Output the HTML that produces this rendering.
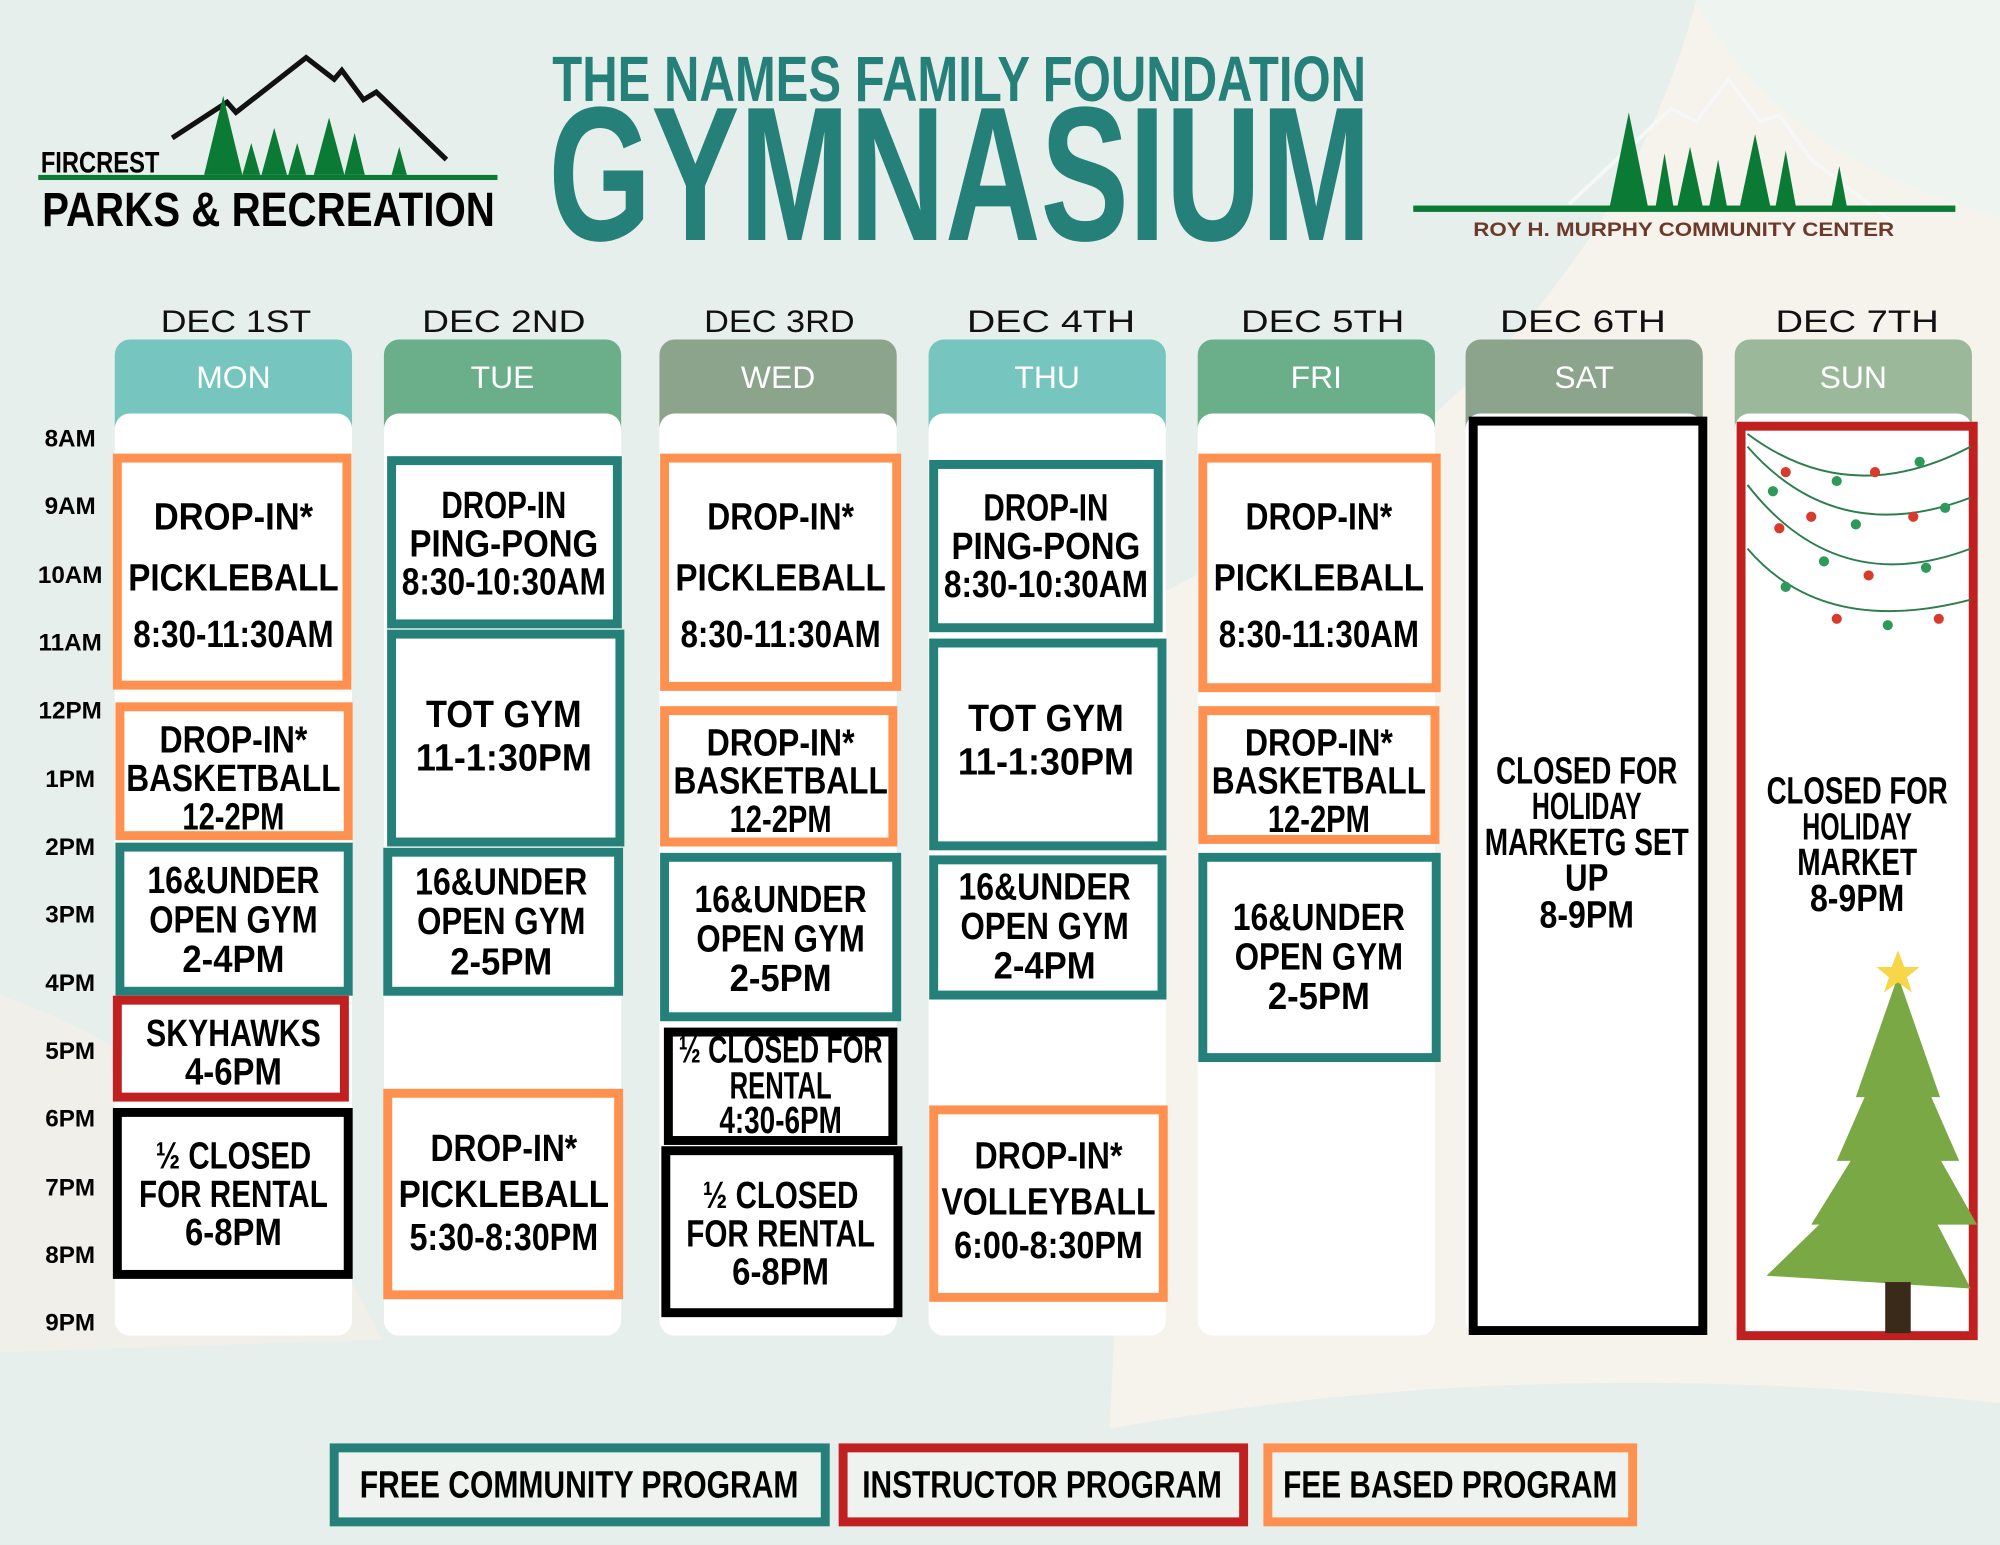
<!DOCTYPE html>
<html><head><meta charset="utf-8"><style>
html,body{margin:0;padding:0;background:#e6efec;}
svg{display:block}
text{font-family:"Liberation Sans Narrow","Liberation Sans",sans-serif;font-weight:bold;}
.b{font-size:30px;fill:#000;text-anchor:middle}
.d{font-family:"Liberation Sans",sans-serif;font-weight:normal;font-size:25px;text-anchor:middle;fill:#111}
.w{font-family:"Liberation Sans",sans-serif;font-weight:normal;font-size:25px;text-anchor:middle;fill:#fff}
.t{font-size:19px;text-anchor:middle;fill:#000}
</style></head><body>
<svg width="2000" height="1545" viewBox="0 0 1568 1211" xmlns="http://www.w3.org/2000/svg">
<rect width="1568" height="1211" fill="#e6efec"/>
<path d="M1330,0 Q1250,300 900,470 L870,1120 Q1200,1060 1568,1100 L1568,0 Z" fill="#f6f2ec"/>
<path d="M1330,0 Q1390,120 1568,170 L1568,0 Z" fill="#eef4f0"/>
<path d="M0,780 Q200,850 300,1050 L0,1060 Z" fill="#f1efe9"/>

<!-- Left logo -->
<polyline points="135,108 178,80 185,88 240,45 262,62 268,55 285,78 295,72 350,125" fill="none" stroke="#111" stroke-width="4"/>
<g fill="#0a7a35">
<polygon points="175,75 160,137 190,137"/>
<polygon points="215,100 205,137 225,137"/>
<polygon points="197,112 190,137 204,137"/>
<polygon points="233,112 226,137 240,137"/>
<polygon points="258,92 246,137 270,137"/>
<polygon points="278,104 270,137 286,137"/>
<polygon points="313,115 307,137 319,137"/>
</g>
<rect x="30" y="137" width="360" height="4" fill="#0a7a35"/>
<text x="32" y="135" font-size="23" textLength="93" lengthAdjust="spacingAndGlyphs">FIRCREST</text>
<text x="33" y="177" font-size="38" textLength="355" lengthAdjust="spacingAndGlyphs">PARKS &amp; RECREATION</text>

<!-- Title -->
<text x="433" y="79" font-size="50" fill="#258079" textLength="638" lengthAdjust="spacingAndGlyphs">THE NAMES FAMILY FOUNDATION</text>
<text x="430" y="188" font-size="150" fill="#258079" textLength="645" lengthAdjust="spacingAndGlyphs">GYMNASIUM</text>

<!-- Right logo -->
<polyline points="1230,160 1310,85 1330,95 1355,62 1380,95 1395,90 1420,125 1485,175" fill="none" stroke="#f5f8f6" stroke-width="3"/>
<g fill="#0a7a35">
<polygon points="1277,88 1262,162 1292,162"/>
<polygon points="1305,120 1298,162 1312,162"/>
<polygon points="1325,115 1315,162 1335,162"/>
<polygon points="1347,125 1340,162 1354,162"/>
<polygon points="1376,105 1364,162 1388,162"/>
<polygon points="1400,118 1392,162 1408,162"/>
<polygon points="1442,130 1436,162 1448,162"/>
</g>
<rect x="1108" y="161" width="425" height="5" fill="#0a7a35"/>
<text x="1320" y="185" font-size="15" fill="#6b3a2a" text-anchor="middle" textLength="330" lengthAdjust="spacingAndGlyphs">ROY H. MURPHY COMMUNITY CENTER</text>

<!-- Day headers -->
<g>
<text class="d" x="185" y="260" textLength="118" lengthAdjust="spacingAndGlyphs">DEC 1ST</text>
<text class="d" x="395" y="260" textLength="128" lengthAdjust="spacingAndGlyphs">DEC 2ND</text>
<text class="d" x="611" y="260" textLength="118" lengthAdjust="spacingAndGlyphs">DEC 3RD</text>
<text class="d" x="824" y="260" textLength="132" lengthAdjust="spacingAndGlyphs">DEC 4TH</text>
<text class="d" x="1037" y="260" textLength="128" lengthAdjust="spacingAndGlyphs">DEC 5TH</text>
<text class="d" x="1241" y="260" textLength="130" lengthAdjust="spacingAndGlyphs">DEC 6TH</text>
<text class="d" x="1456" y="260" textLength="128" lengthAdjust="spacingAndGlyphs">DEC 7TH</text>
</g>
<g>
<rect x="90" y="266" width="186" height="80" rx="12" fill="#76c6bf"/>
<rect x="301" y="266" width="186" height="80" rx="12" fill="#6aaf8a"/>
<rect x="517" y="266" width="186" height="80" rx="12" fill="#8ca38c"/>
<rect x="728" y="266" width="186" height="80" rx="12" fill="#76c6bf"/>
<rect x="939" y="266" width="186" height="80" rx="12" fill="#6aaf8a"/>
<rect x="1149" y="266" width="186" height="80" rx="12" fill="#8ca38c"/>
<rect x="1360" y="266" width="186" height="80" rx="12" fill="#9cb89a"/>
<text class="w" x="183" y="304">MON</text>
<text class="w" x="394" y="304">TUE</text>
<text class="w" x="610" y="304">WED</text>
<text class="w" x="821" y="304">THU</text>
<text class="w" x="1032" y="304">FRI</text>
<text class="w" x="1242" y="304">SAT</text>
<text class="w" x="1453" y="304">SUN</text>
</g>
<g fill="#fff">
<rect x="90" y="324" width="186" height="723" rx="12"/>
<rect x="301" y="324" width="186" height="723" rx="12"/>
<rect x="517" y="324" width="186" height="723" rx="12"/>
<rect x="728" y="324" width="186" height="723" rx="12"/>
<rect x="939" y="324" width="186" height="723" rx="12"/>
<rect x="1149" y="324" width="186" height="723" rx="12"/>
<rect x="1360" y="324" width="186" height="723" rx="12"/>
</g>

<!-- Times -->
<g>
<text class="t" x="55" y="350">8AM</text><text class="t" x="55" y="403">9AM</text>
<text class="t" x="55" y="457">10AM</text><text class="t" x="55" y="510">11AM</text>
<text class="t" x="55" y="563">12PM</text><text class="t" x="55" y="617">1PM</text>
<text class="t" x="55" y="670">2PM</text><text class="t" x="55" y="723">3PM</text>
<text class="t" x="55" y="777">4PM</text><text class="t" x="55" y="830">5PM</text>
<text class="t" x="55" y="883">6PM</text><text class="t" x="55" y="937">7PM</text>
<text class="t" x="55" y="990">8PM</text><text class="t" x="55" y="1043">9PM</text>
</g>

<!-- Boxes -->
<g fill="#fff" stroke-width="7">
<rect x="92" y="359" width="180" height="178" stroke="#ff9150"/>
<rect x="94" y="554" width="179" height="101" stroke="#ff9150"/>
<rect x="94" y="664" width="179" height="113" stroke="#25807a"/>
<rect x="92" y="784" width="178" height="76" stroke="#c0201f"/>
<rect x="92" y="872" width="181" height="127" stroke="#000"/>

<rect x="307" y="361" width="177" height="128" stroke="#25807a"/>
<rect x="307" y="497" width="179" height="163" stroke="#25807a"/>
<rect x="304" y="668" width="181" height="109" stroke="#25807a"/>
<rect x="304" y="857" width="181" height="158" stroke="#ff9150"/>

<rect x="521" y="359" width="182" height="179" stroke="#ff9150"/>
<rect x="521" y="557" width="179" height="103" stroke="#ff9150"/>
<rect x="521" y="672" width="182" height="125" stroke="#25807a"/>
<rect x="524" y="809" width="176" height="85" stroke="#000"/>
<rect x="522" y="902" width="182" height="127" stroke="#000"/>

<rect x="732" y="364" width="176" height="128" stroke="#25807a"/>
<rect x="732" y="504" width="179" height="159" stroke="#25807a"/>
<rect x="732" y="674" width="179" height="106" stroke="#25807a"/>
<rect x="732" y="870" width="180" height="147" stroke="#ff9150"/>

<rect x="943" y="359" width="183" height="180" stroke="#ff9150"/>
<rect x="943" y="557" width="182" height="101" stroke="#ff9150"/>
<rect x="943" y="672" width="183" height="157" stroke="#25807a"/>

<rect x="1155" y="330" width="180" height="713" stroke="#000"/>
<rect x="1365" y="334" width="182" height="713" stroke="#c0201f"/>
</g>

<!-- Sun decorations -->
<g fill="none" stroke="#2e7d4f" stroke-width="1.5">
<path d="M1370,340 Q1450,400 1545,350"/>
<path d="M1370,350 Q1440,430 1545,390"/>
<path d="M1370,380 Q1440,470 1545,430"/>
<path d="M1370,430 Q1430,500 1545,470"/>
</g>
<g>
<circle cx="1400" cy="370" r="4" fill="#d83a2c"/><circle cx="1440" cy="377" r="4" fill="#2e9a5a"/><circle cx="1470" cy="370" r="4" fill="#d83a2c"/><circle cx="1505" cy="362" r="4" fill="#2e9a5a"/>
<circle cx="1390" cy="385" r="4" fill="#2e9a5a"/><circle cx="1420" cy="405" r="4" fill="#d83a2c"/><circle cx="1455" cy="411" r="4" fill="#2e9a5a"/><circle cx="1500" cy="405" r="4" fill="#d83a2c"/><circle cx="1525" cy="398" r="4" fill="#2e9a5a"/>
<circle cx="1395" cy="414" r="4" fill="#d83a2c"/><circle cx="1430" cy="440" r="4" fill="#2e9a5a"/><circle cx="1465" cy="451" r="4" fill="#d83a2c"/><circle cx="1510" cy="445" r="4" fill="#2e9a5a"/>
<circle cx="1400" cy="460" r="4" fill="#2e9a5a"/><circle cx="1440" cy="485" r="4" fill="#d83a2c"/><circle cx="1480" cy="490" r="4" fill="#2e9a5a"/><circle cx="1520" cy="485" r="4" fill="#d83a2c"/>
</g>
<g fill="#7aa844">
<polygon points="1488,765 1455,860 1521,860"/>
<polygon points="1488,800 1440,910 1536,910"/>
<polygon points="1488,850 1420,960 1550,960"/>
<polygon points="1488,900 1385,1000 1545,1010"/>
</g>
<rect x="1478" y="1005" width="20" height="40" fill="#3a2a1a"/>
<polygon points="1488,745 1493,758 1505,758 1495,766 1499,778 1488,770 1477,778 1481,766 1471,758 1483,758" fill="#f7d64a"/>

<!-- Box texts -->
<g class="b">
<text class="b" x="183" y="415" textLength="125" lengthAdjust="spacingAndGlyphs">DROP-IN*</text>
<text class="b" x="183" y="463" textLength="165" lengthAdjust="spacingAndGlyphs">PICKLEBALL</text>
<text class="b" x="183" y="507" textLength="157" lengthAdjust="spacingAndGlyphs">8:30-11:30AM</text>
<text class="b" x="183" y="590" textLength="116" lengthAdjust="spacingAndGlyphs">DROP-IN*</text>
<text class="b" x="183" y="620" textLength="168" lengthAdjust="spacingAndGlyphs">BASKETBALL</text>
<text class="b" x="183" y="650" textLength="80" lengthAdjust="spacingAndGlyphs">12-2PM</text>
<text class="b" x="183" y="700" textLength="135" lengthAdjust="spacingAndGlyphs">16&amp;UNDER</text>
<text class="b" x="183" y="731" textLength="132" lengthAdjust="spacingAndGlyphs">OPEN GYM</text>
<text class="b" x="183" y="762" textLength="80" lengthAdjust="spacingAndGlyphs">2-4PM</text>
<text class="b" x="183" y="820" textLength="137" lengthAdjust="spacingAndGlyphs">SKYHAWKS</text>
<text class="b" x="183" y="850" textLength="76" lengthAdjust="spacingAndGlyphs">4-6PM</text>
<text class="b" x="183" y="916" textLength="122" lengthAdjust="spacingAndGlyphs">½ CLOSED</text>
<text class="b" x="183" y="946" textLength="148" lengthAdjust="spacingAndGlyphs">FOR RENTAL</text>
<text class="b" x="183" y="976" textLength="76" lengthAdjust="spacingAndGlyphs">6-8PM</text>

<text class="b" x="395" y="406" textLength="98" lengthAdjust="spacingAndGlyphs">DROP-IN</text>
<text class="b" x="395" y="436" textLength="148" lengthAdjust="spacingAndGlyphs">PING-PONG</text>
<text class="b" x="395" y="466" textLength="160" lengthAdjust="spacingAndGlyphs">8:30-10:30AM</text>
<text class="b" x="395" y="570" textLength="122" lengthAdjust="spacingAndGlyphs">TOT GYM</text>
<text class="b" x="395" y="604" textLength="138" lengthAdjust="spacingAndGlyphs">11-1:30PM</text>
<text class="b" x="393" y="701" textLength="135" lengthAdjust="spacingAndGlyphs">16&amp;UNDER</text>
<text class="b" x="393" y="732" textLength="132" lengthAdjust="spacingAndGlyphs">OPEN GYM</text>
<text class="b" x="393" y="764" textLength="80" lengthAdjust="spacingAndGlyphs">2-5PM</text>
<text class="b" x="395" y="910" textLength="115" lengthAdjust="spacingAndGlyphs">DROP-IN*</text>
<text class="b" x="395" y="946" textLength="165" lengthAdjust="spacingAndGlyphs">PICKLEBALL</text>
<text class="b" x="395" y="980" textLength="148" lengthAdjust="spacingAndGlyphs">5:30-8:30PM</text>

<text class="b" x="612" y="415" textLength="115" lengthAdjust="spacingAndGlyphs">DROP-IN*</text>
<text class="b" x="612" y="463" textLength="165" lengthAdjust="spacingAndGlyphs">PICKLEBALL</text>
<text class="b" x="612" y="507" textLength="157" lengthAdjust="spacingAndGlyphs">8:30-11:30AM</text>
<text class="b" x="612" y="592" textLength="116" lengthAdjust="spacingAndGlyphs">DROP-IN*</text>
<text class="b" x="612" y="622" textLength="168" lengthAdjust="spacingAndGlyphs">BASKETBALL</text>
<text class="b" x="612" y="652" textLength="80" lengthAdjust="spacingAndGlyphs">12-2PM</text>
<text class="b" x="612" y="715" textLength="135" lengthAdjust="spacingAndGlyphs">16&amp;UNDER</text>
<text class="b" x="612" y="746" textLength="132" lengthAdjust="spacingAndGlyphs">OPEN GYM</text>
<text class="b" x="612" y="777" textLength="80" lengthAdjust="spacingAndGlyphs">2-5PM</text>
<text class="b" x="612" y="833" font-size="27" textLength="160" lengthAdjust="spacingAndGlyphs">½ CLOSED FOR</text>
<text class="b" x="612" y="861" font-size="27" textLength="80" lengthAdjust="spacingAndGlyphs">RENTAL</text>
<text class="b" x="612" y="888" font-size="27" textLength="96" lengthAdjust="spacingAndGlyphs">4:30-6PM</text>
<text class="b" x="612" y="947" textLength="122" lengthAdjust="spacingAndGlyphs">½ CLOSED</text>
<text class="b" x="612" y="977" textLength="148" lengthAdjust="spacingAndGlyphs">FOR RENTAL</text>
<text class="b" x="612" y="1007" textLength="76" lengthAdjust="spacingAndGlyphs">6-8PM</text>

<text class="b" x="820" y="408" textLength="98" lengthAdjust="spacingAndGlyphs">DROP-IN</text>
<text class="b" x="820" y="438" textLength="148" lengthAdjust="spacingAndGlyphs">PING-PONG</text>
<text class="b" x="820" y="468" textLength="160" lengthAdjust="spacingAndGlyphs">8:30-10:30AM</text>
<text class="b" x="820" y="573" textLength="122" lengthAdjust="spacingAndGlyphs">TOT GYM</text>
<text class="b" x="820" y="607" textLength="138" lengthAdjust="spacingAndGlyphs">11-1:30PM</text>
<text class="b" x="819" y="705" textLength="135" lengthAdjust="spacingAndGlyphs">16&amp;UNDER</text>
<text class="b" x="819" y="736" textLength="132" lengthAdjust="spacingAndGlyphs">OPEN GYM</text>
<text class="b" x="819" y="767" textLength="80" lengthAdjust="spacingAndGlyphs">2-4PM</text>
<text class="b" x="822" y="916" textLength="116" lengthAdjust="spacingAndGlyphs">DROP-IN*</text>
<text class="b" x="822" y="952" textLength="168" lengthAdjust="spacingAndGlyphs">VOLLEYBALL</text>
<text class="b" x="822" y="986" textLength="148" lengthAdjust="spacingAndGlyphs">6:00-8:30PM</text>

<text class="b" x="1034" y="415" textLength="115" lengthAdjust="spacingAndGlyphs">DROP-IN*</text>
<text class="b" x="1034" y="463" textLength="165" lengthAdjust="spacingAndGlyphs">PICKLEBALL</text>
<text class="b" x="1034" y="507" textLength="157" lengthAdjust="spacingAndGlyphs">8:30-11:30AM</text>
<text class="b" x="1034" y="592" textLength="116" lengthAdjust="spacingAndGlyphs">DROP-IN*</text>
<text class="b" x="1034" y="622" textLength="168" lengthAdjust="spacingAndGlyphs">BASKETBALL</text>
<text class="b" x="1034" y="652" textLength="80" lengthAdjust="spacingAndGlyphs">12-2PM</text>
<text class="b" x="1034" y="729" textLength="135" lengthAdjust="spacingAndGlyphs">16&amp;UNDER</text>
<text class="b" x="1034" y="760" textLength="132" lengthAdjust="spacingAndGlyphs">OPEN GYM</text>
<text class="b" x="1034" y="791" textLength="80" lengthAdjust="spacingAndGlyphs">2-5PM</text>

<text class="b" x="1244" y="614" font-size="28" textLength="142" lengthAdjust="spacingAndGlyphs">CLOSED FOR</text>
<text class="b" x="1244" y="642" font-size="28" textLength="86" lengthAdjust="spacingAndGlyphs">HOLIDAY</text>
<text class="b" x="1244" y="670" font-size="28" textLength="160" lengthAdjust="spacingAndGlyphs">MARKETG SET</text>
<text class="b" x="1244" y="698" font-size="28" textLength="34" lengthAdjust="spacingAndGlyphs">UP</text>
<text class="b" x="1244" y="727" font-size="28" textLength="74" lengthAdjust="spacingAndGlyphs">8-9PM</text>

<text class="b" x="1456" y="630" font-size="28" textLength="142" lengthAdjust="spacingAndGlyphs">CLOSED FOR</text>
<text class="b" x="1456" y="658" font-size="28" textLength="86" lengthAdjust="spacingAndGlyphs">HOLIDAY</text>
<text class="b" x="1456" y="686" font-size="28" textLength="94" lengthAdjust="spacingAndGlyphs">MARKET</text>
<text class="b" x="1456" y="714" font-size="28" textLength="74" lengthAdjust="spacingAndGlyphs">8-9PM</text>
</g>

<!-- Legend -->
<g fill="#eef3f0" stroke-width="7">
<rect x="262" y="1135" width="385" height="58" stroke="#25807a"/>
<rect x="661" y="1135" width="314" height="58" stroke="#c0201f"/>
<rect x="994" y="1135" width="286" height="58" stroke="#ff9150"/>
</g>
<text class="b" x="454" y="1174" textLength="344" lengthAdjust="spacingAndGlyphs">FREE COMMUNITY PROGRAM</text>
<text class="b" x="817" y="1174" textLength="282" lengthAdjust="spacingAndGlyphs">INSTRUCTOR PROGRAM</text>
<text class="b" x="1137" y="1174" textLength="262" lengthAdjust="spacingAndGlyphs">FEE BASED PROGRAM</text>
</svg>
</body></html>
